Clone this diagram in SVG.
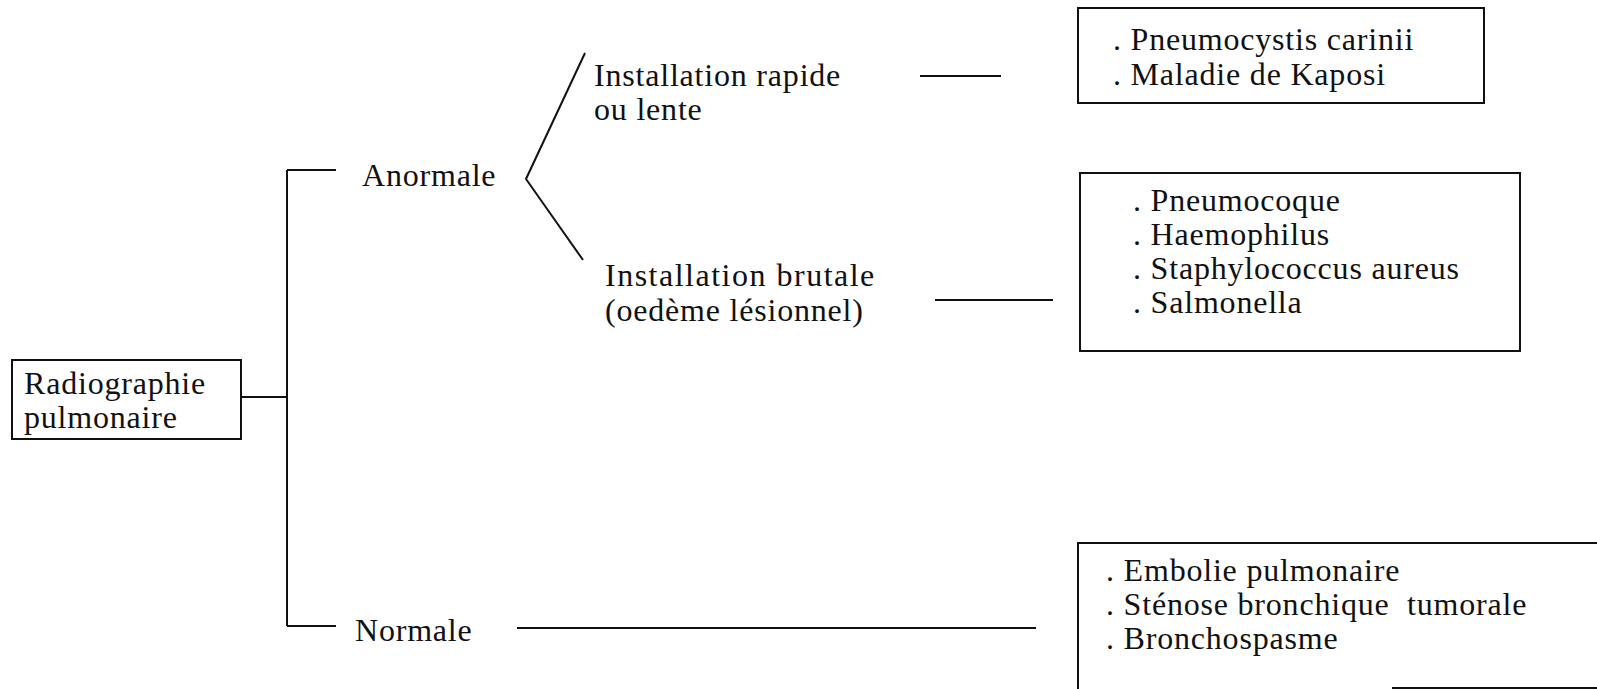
<svg xmlns="http://www.w3.org/2000/svg" width="1597" height="689" viewBox="0 0 1597 689">
<style>
.t{font-family:"Liberation Serif","Times New Roman",serif;font-size:32px;letter-spacing:0.8px;fill:#111;}
.w{letter-spacing:1.5px;}
.b{fill:#fff;stroke:#111;stroke-width:2;}
.c{fill:none;stroke:#111;stroke-width:2;}
.pre{white-space:pre;}
</style>
<rect width="1597" height="689" fill="#fff"/>
<g id="connectors">
<path class="c" d="M241,397 H287 M287,170 V626 M287,170 H336 M287,626 H336"/>
<path class="c" d="M585,53 L526,179 L583,260"/>
<path class="c" d="M920,76 H1001"/>
<path class="c" d="M935,300 H1053"/>
<path class="c" d="M517,628 H1036"/>
</g>
<g id="root">
<rect class="b" x="12" y="360" width="229" height="79"/>
<text class="t" x="24" y="394">Radiographie</text>
<text class="t" x="24" y="428">pulmonaire</text>
</g>
<g id="anormale">
<text class="t" x="362" y="186">Anormale</text>
</g>
<g id="normale">
<text class="t" x="355" y="641">Normale</text>
</g>
<g id="rapide">
<text class="t" x="594" y="86">Installation rapide</text>
<text class="t" x="594" y="120">ou lente</text>
</g>
<g id="brutale">
<text class="t w" x="605" y="286">Installation brutale</text>
<text class="t" x="605" y="321">(oedème lésionnel)</text>
</g>
<g id="box1">
<rect class="b" x="1078" y="8" width="406" height="95"/>
<text class="t" x="1113" y="50">. Pneumocystis carinii</text>
<text class="t" x="1113" y="85">. Maladie de Kaposi</text>
</g>
<g id="box2">
<rect class="b" x="1080" y="173" width="440" height="178"/>
<text class="t" x="1133" y="211">. Pneumocoque</text>
<text class="t" x="1133" y="245">. Haemophilus</text>
<text class="t" x="1133" y="279">. Staphylococcus aureus</text>
<text class="t" x="1133" y="313">. Salmonella</text>
</g>
<g id="box3">
<path class="c" d="M1597,543 H1078 V689 M1392,688 H1597"/>
<text class="t" x="1106" y="581">. Embolie pulmonaire</text>
<text class="t pre" x="1106" y="615">. Sténose bronchique  tumorale</text>
<text class="t" x="1106" y="649">. Bronchospasme</text>
</g>
</svg>
